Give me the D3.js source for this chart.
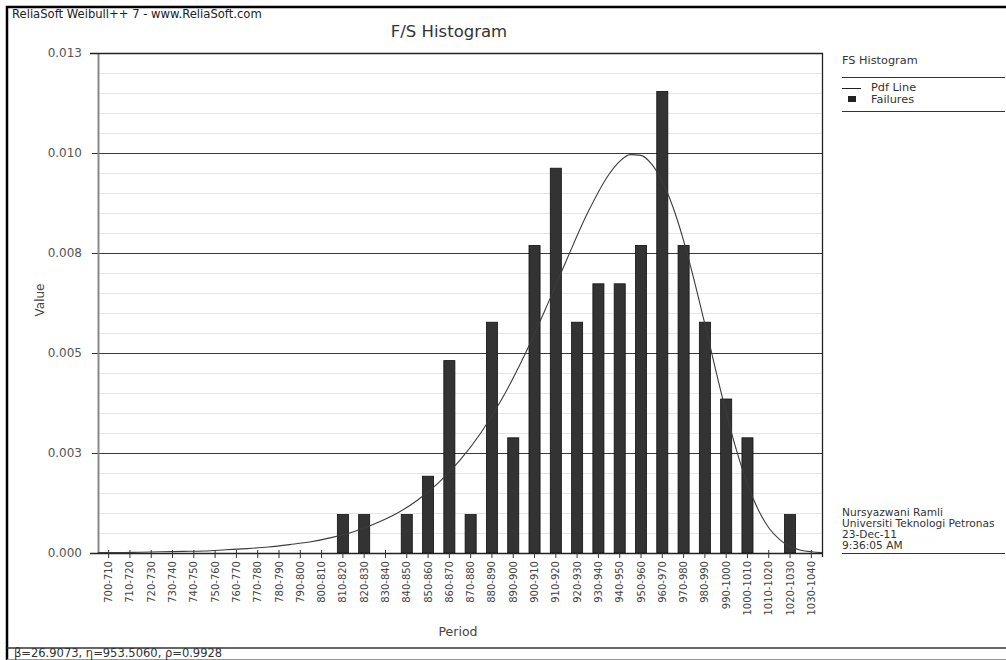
<!DOCTYPE html>
<html><head><meta charset="utf-8">
<script src="https://cdn.jsdelivr.net/npm/d3@7"></script>
<style>
body{margin:0;background:#fff}
svg{display:block}
text{font-family:"DejaVu Sans",Verdana,sans-serif}
</style>
</head><body>
<svg id="chart" width="1006" height="660"></svg>
<script>
// Histogram bins (period ranges)
const periods = ["700-710","710-720","720-730","730-740","740-750","750-760","760-770","770-780",
  "780-790","790-800","800-810","810-820","820-830","830-840","840-850","850-860","860-870",
  "870-880","880-890","890-900","900-910","910-920","920-930","930-940","940-950","950-960",
  "960-970","970-980","980-990","990-1000","1000-1010","1010-1020","1020-1030","1030-1040"];

// Failure density per bin
const failures = [0,0,0,0,0,0,0,0,
  0,0,0,0.00096,0.00096,0,0.00096,0.00192,0.00481,
  0.00096,0.00577,0.00288,0.00769,0.00962,0.00577,0.00673,0.00673,0.00769,
  0.01154,0.00769,0.00577,0.00385,0.00288,0,0.00096,0];

// Pdf line points (period, density)
const pdfPeriod = [700,710,720,730,740,750,760,770,780,790,800,810,820,830,840,850,860,870,880,890,
  900,910,920,930,940,945,950,955,960,965,970,975,980,985,990,995,1000,1005,1010,1015,1020,1025,1030,1035,1040];
const pdfValue = [0.00001,0.00001,0.00002,0.00003,0.00004,0.00005,0.00008,0.00011,0.00015,0.00021,
  0.00028,0.00039,0.00053,0.00073,0.00098,0.00132,0.00176,0.00232,0.00302,0.00388,
  0.00491,0.00608,0.00732,0.00851,0.00947,0.00979,0.00996,0.00994,0.00972,0.00929,
  0.00865,0.00781,0.00681,0.00572,0.00459,0.00351,0.00254,0.00172,0.00109,0.00063,
  0.00034,0.00016,0.00007,0.00003,0.00001];

// Y axis ticks and their printed labels
const yTicks = [0, 0.0025, 0.005, 0.0075, 0.01, 0.0125];
const yTickLabels = ["0.000","0.003","0.005","0.008","0.010","0.013"];

const legendItems = ["Pdf Line","Failures"];
const infoLines = ["Nursyazwani Ramli","Universiti Teknologi Petronas","23-Dec-11","9:36:05 AM"];

const svg = d3.select("#chart");
const W = 1006, H = 660;
const plot = {left: 98, right: 822, top: 53, bottom: 553};

svg.append("rect").attr("width", W).attr("height", H).attr("fill", "#fff");

const x = d3.scaleBand().domain(periods).range([plot.left, plot.right])
  .paddingInner(0.48).paddingOuter(0.24);
const xLin = d3.scaleLinear().domain([700, 1040]).range([plot.left, plot.right]);
const y = d3.scaleLinear().domain([0, 0.0125]).range([plot.bottom, plot.top]);

// minor grid
svg.append("g").selectAll("line").data(y.ticks(25)).join("line")
  .attr("x1", plot.left).attr("x2", plot.right)
  .attr("y1", d => Math.round(y(d)) + 0.5).attr("y2", d => Math.round(y(d)) + 0.5)
  .attr("stroke", "#e6e6e6").attr("stroke-width", 1);

// major grid
svg.append("g").selectAll("line").data(yTicks.slice(1)).join("line")
  .attr("x1", plot.left).attr("x2", plot.right)
  .attr("y1", d => Math.round(y(d)) + 0.5).attr("y2", d => Math.round(y(d)) + 0.5)
  .attr("stroke", "#3a3a3a").attr("stroke-width", 1);

// right frame
svg.append("line").attr("x1", plot.right + 0.5).attr("x2", plot.right + 0.5)
  .attr("y1", plot.top).attr("y2", plot.bottom + 4)
  .attr("stroke", "#222").attr("stroke-width", 1.3);

// bars
svg.append("g").selectAll("rect").data(periods.map((p, i) => ({p, v: failures[i]})).filter(d => d.v > 0))
  .join("rect")
  .attr("x", d => x(d.p)).attr("width", x.bandwidth())
  .attr("y", d => y(d.v)).attr("height", d => y(0) - y(d.v))
  .attr("fill", "#333").attr("stroke", "#111").attr("stroke-width", 0.8);

// y axis
const yAxis = svg.append("g").attr("transform", `translate(${plot.left},0)`)
  .call(d3.axisLeft(y).tickValues(yTicks).tickFormat((d, i) => yTickLabels[i]).tickSize(6).tickPadding(10));
yAxis.select(".domain").remove();
yAxis.selectAll(".tick line").attr("stroke", "#333");
yAxis.selectAll(".tick text").attr("fill", "#555").attr("font-size", 12)
  .attr("font-family", "DejaVu Sans, Verdana, sans-serif");
svg.append("line").attr("x1", plot.left + 0.5).attr("x2", plot.left + 0.5)
  .attr("y1", plot.top).attr("y2", plot.bottom + 1)
  .attr("stroke", "#8a8a8a").attr("stroke-width", 2);

// x axis
const xAxis = svg.append("g").attr("transform", `translate(0,${plot.bottom})`)
  .call(d3.axisBottom(x).tickSize(5).tickPadding(4).tickSizeOuter(0));
xAxis.select(".domain").attr("stroke", "#222").attr("stroke-width", 1.3)
  .attr("d", `M${plot.left - 8},0.5H${plot.right}`);
xAxis.selectAll(".tick line").attr("stroke", "#333").attr("y1", -3);
xAxis.selectAll(".tick text").attr("fill", "#444").attr("font-size", 10)
  .attr("font-family", "DejaVu Sans, Verdana, sans-serif")
  .attr("transform", "rotate(-90)").attr("text-anchor", "end")
  .attr("x", -8).attr("y", 0).attr("dy", "0.35em");
// top frame
svg.append("line").attr("x1", plot.left - 8).attr("x2", plot.right + 1)
  .attr("y1", plot.top + 0.5).attr("y2", plot.top + 0.5)
  .attr("stroke", "#222").attr("stroke-width", 1.3);

// pdf line
const line = d3.line().x(d => xLin(d[0])).y(d => y(d[1])).curve(d3.curveMonotoneX);
svg.append("path").datum(pdfPeriod.map((p, i) => [p, pdfValue[i]]))
  .attr("d", line).attr("fill", "none").attr("stroke", "#3c3c3c").attr("stroke-width", 1.1);

// axis titles
svg.append("text").attr("x", 458).attr("y", 636).attr("text-anchor", "middle")
  .attr("font-size", 12.5).attr("fill", "#444").text("Period");
svg.append("text").attr("transform", "translate(44,300) rotate(-90)").attr("text-anchor", "middle")
  .attr("font-size", 12).attr("fill", "#444").text("Value");

// title and header
svg.append("text").attr("x", 449).attr("y", 37).attr("text-anchor", "middle")
  .attr("font-size", 16.5).attr("fill", "#333").text("F/S Histogram");
svg.append("text").attr("x", 12).attr("y", 18)
  .attr("font-size", 11.6).attr("fill", "#222").text("ReliaSoft Weibull++ 7 - www.ReliaSoft.com");

// legend
const lg = svg.append("g").attr("font-size", 11.3).attr("fill", "#333");
lg.append("text").attr("x", 842).attr("y", 64).text("FS Histogram");
lg.append("line").attr("x1", 842).attr("x2", 1005).attr("y1", 77.5).attr("y2", 77.5).attr("stroke", "#333").attr("stroke-width", 1.2);
lg.append("line").attr("x1", 842).attr("x2", 861).attr("y1", 88.5).attr("y2", 88.5).attr("stroke", "#222");
lg.append("rect").attr("x", 848).attr("y", 96).attr("width", 8).attr("height", 6).attr("fill", "#222");
lg.selectAll("text.item").data(legendItems).join("text").attr("class", "item")
  .attr("x", 871).attr("y", (d, i) => 91 + i * 12).text(d => d);
lg.append("line").attr("x1", 842).attr("x2", 1005).attr("y1", 111.5).attr("y2", 111.5).attr("stroke", "#333").attr("stroke-width", 1.2);

// author block
const info = svg.append("g").attr("font-size", 10.6).attr("fill", "#333");
info.selectAll("text").data(infoLines).join("text")
  .attr("x", 842).attr("y", (d, i) => 516 + i * 11).text(d => d);
info.append("line").attr("x1", 842).attr("x2", 1005).attr("y1", 553.5).attr("y2", 553.5).attr("stroke", "#333").attr("stroke-width", 1.2);

// outer frame and footer
svg.append("path").attr("d", `M7,${H}V7H${W}`).attr("fill", "none").attr("stroke", "#000").attr("stroke-width", 2.5);
svg.append("line").attr("x1", 7).attr("x2", W).attr("y1", 648).attr("y2", 648).attr("stroke", "#333").attr("stroke-width", 1.5);
svg.append("line").attr("x1", 7).attr("x2", W).attr("y1", 659.5).attr("y2", 659.5).attr("stroke", "#999").attr("stroke-width", 1);
svg.append("text").attr("x", 14).attr("y", 657).attr("font-size", 11.5).attr("fill", "#333")
  .text("β=26.9073, η=953.5060, ρ=0.9928");
</script>
</body></html>
